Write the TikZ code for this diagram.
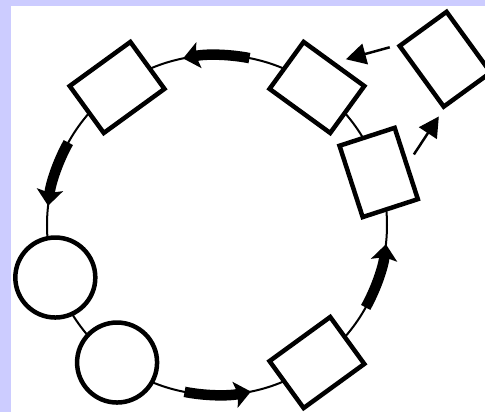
\documentclass[tikz,border=0pt]{standalone}
\usepackage{tikz}
\usetikzlibrary{arrows.meta}
\definecolor{cycleLav}{HTML}{CCCCFF}
\definecolor{cycleInk}{HTML}{000000}

\tikzset{
  ringbox/.style={draw=cycleInk,fill=white,line width=0.09cm,
                  minimum width=1.16cm,minimum height=1.5cm,inner sep=0pt},
  ringdisk/.style={circle,draw=cycleInk,fill=white,line width=0.09cm,
                   minimum size=1.6cm,inner sep=0pt},
  flowarc/.style={draw=cycleInk,line width=0.21cm,
                  -{Stealth[length=0.32cm,width=0.52cm,inset=0.06cm]}},
  sidelink/.style={draw=cycleInk,line width=0.05cm,
                   -{Triangle[length=0.4cm,width=0.42cm]}}
}

\begin{document}
\begin{tikzpicture}
  \useasboundingbox (-4.34,-3.74) rectangle (5.36,4.5);
  \clip (-4.34,-3.74) rectangle (5.36,4.5);
  \fill[cycleLav] (-4.34,-3.74) rectangle (5.36,4.5);
  \fill[white] (-4.12,-3.74) rectangle (5.36,4.38);

  % the ring and its flow marks
  \draw[cycleInk,line width=0.04cm] (0,0) circle (3.4);
  \foreach \a in {90,162,270,342}
    \draw[flowarc] ({\a-11}:3.4) arc[start angle=\a-11,end angle=\a+11.5,radius=3.4];

  % stations on the ring
  \node[ringbox,rotate=306] (box1) at (306:3.4) {};
  \node[ringbox,rotate=18] (box2) at (18:3.4) {};
  \node[ringbox,rotate=54] (box3) at (54:3.4) {};
  \node[ringbox,rotate=126] (box4) at (126:3.4) {};
  \node[ringdisk] (disk1) at (198:3.4) {};
  \node[ringdisk] (disk2) at (234:3.4) {};

  % side loop
  \node[ringbox,rotate=36] (side) at (36:5.64) {};
  \draw[sidelink,shorten <=0.2cm,shorten >=0.16cm] (box2.east) -- (side.south west);
  \draw[sidelink,shorten <=0.14cm,shorten >=0.22cm] (side.north west) -- (box3.east);
\end{tikzpicture}
\end{document}
